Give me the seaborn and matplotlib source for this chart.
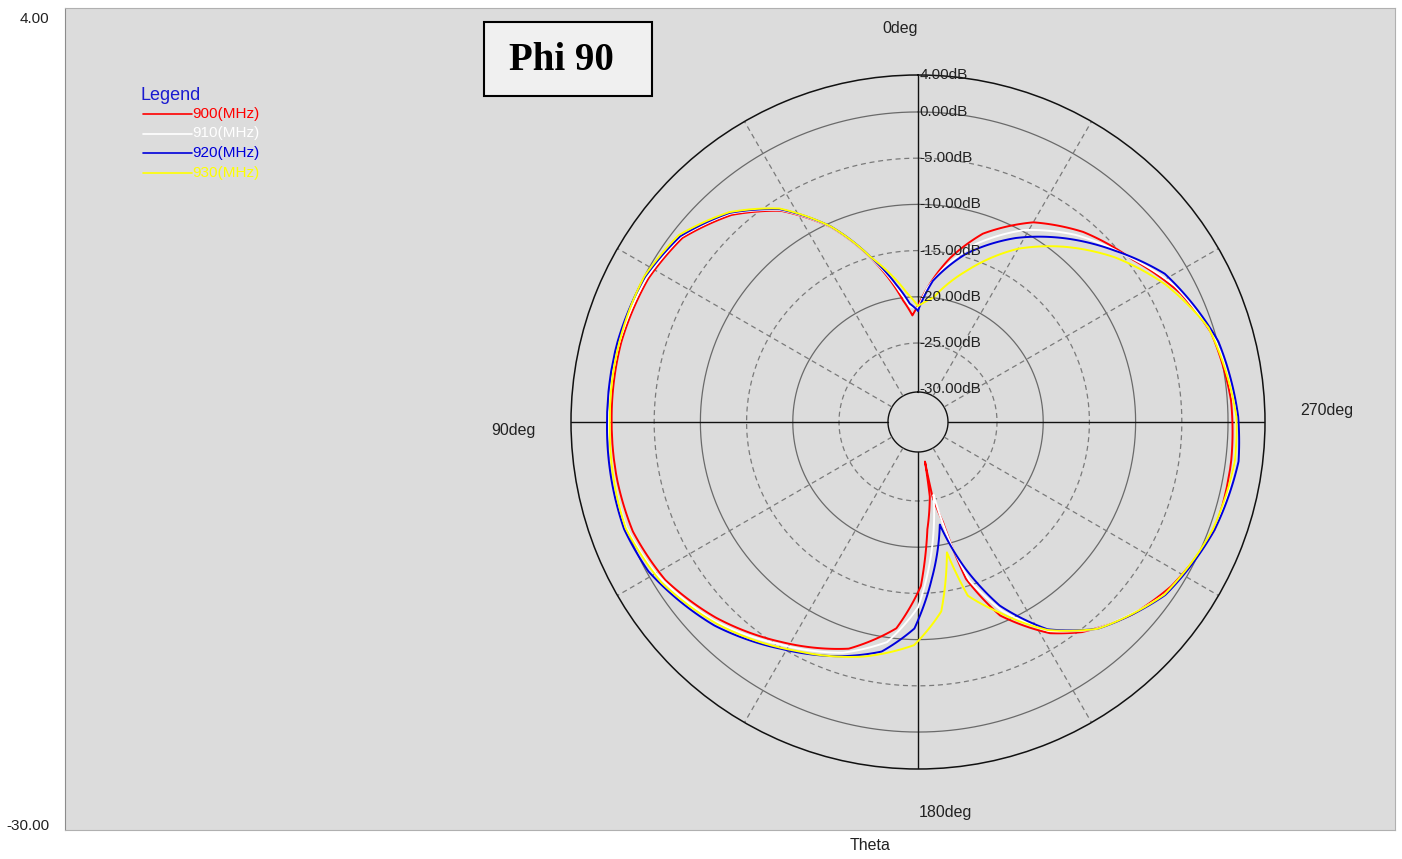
import numpy as np
import pandas as pd
import matplotlib
matplotlib.use('Agg')
import matplotlib.pyplot as plt
from matplotlib.lines import Line2D
from matplotlib.patches import Rectangle
import seaborn as sns

sns.set_style('white')
plt.rcParams['font.family'] = ['Liberation Sans', 'DejaVu Sans']

W, H = 1402, 859

### dados (theta em graus, ganho em dB)

theta_900 = [0, 3, 7, 16, 24, 33, 42, 52, 62, 75, 90, 101, 111, 122, 134, 148, 163, 174, 181, 185,
             189, 190, 191, 194, 197, 203, 212, 218, 228, 237, 250, 263, 274, 287, 296, 307, 319, 330,
             341, 349, 356, 360]
db_900 = [-21.0, -22.0, -20.3, -15.1, -10.5, -6.3, -3.4, -1.2, -0.5, -0.3, -0.4, -0.4, -0.5, -1.3,
          -3.1, -5.5, -7.9, -11.1, -15.8, -21.9, -25.4, -29.2, -25.3, -22.4, -15.8, -10.8, -6.6, -4.7,
          -2.4, -0.9, 0.6, 0.6, 0.4, -0.4, -1.9, -4.4, -6.3, -8.6, -12.0, -15.5, -19.0, -21.0]

theta_910 = [0, 4, 8, 16, 24, 33, 42, 52, 62, 75, 90, 110, 120, 134, 148, 162, 172, 180, 186, 192,
             195, 198, 204, 212, 220, 235, 250, 263, 272, 286, 298, 309, 320, 331, 342, 350, 356, 360]
db_910 = [-21.3, -21.0, -19.3, -15.1, -10.5, -6.2, -3.2, -1.0, -0.3, -0.1, -0.1, 0.0, -0.8, -2.7,
          -5.2, -7.3, -9.5, -13.5, -19.5, -25.5, -20.0, -15.5, -11.2, -6.9, -4.2, -1.0, 0.6, 1.0,
          0.8, -0.2, -2.1, -4.8, -7.1, -9.8, -13.3, -16.5, -19.0, -21.3]

theta_920 = [0, 4, 9, 16, 24, 33, 42, 52, 62, 75, 90, 110, 119, 135, 149, 162, 171, 179, 185, 192,
             198, 204, 212, 221, 235, 250, 263, 271, 285, 301, 311, 321, 332, 344, 354, 360]
db_920 = [-21.5, -20.7, -18.5, -15.0, -10.4, -6.1, -3.1, -0.9, -0.1, 0.1, 0.1, 0.3, -0.2, -2.4,
          -4.9, -6.9, -8.4, -11.2, -16.5, -22.2, -16.8, -11.8, -7.1, -3.9, -0.9, 0.6, 1.4, 1.1,
          0.1, -2.4, -5.3, -8.0, -11.0, -14.6, -18.2, -21.5]

theta_930 = [0, 5, 10, 16, 24, 33, 42, 52, 62, 75, 90, 110, 122, 135, 152, 167, 179, 187, 192.5, 196,
             203, 212, 221, 235, 250, 263, 271, 288, 299, 310, 320, 330, 342, 353, 360]
db_930 = [-21.0, -19.5, -17.5, -15.0, -10.4, -6.0, -3.0, -0.7, 0.0, -0.1, -0.2, 0.1, -0.8, -2.7,
          -5.5, -7.5, -9.4, -12.9, -19.1, -14.0, -11.2, -7.0, -3.9, -1.0, 0.4, 1.0, 0.9, -0.5,
          -2.9, -5.8, -8.8, -11.9, -16.3, -20.0, -21.0]

freqs = ['900(MHz)', '910(MHz)', '920(MHz)', '930(MHz)']
cores = {'900(MHz)': '#ff0000', '910(MHz)': '#ffffff', '920(MHz)': '#0000dc', '930(MHz)': '#ffff00'}

niveis = [4, 0, -5, -10, -15, -20, -25, -30]
rotulos_niveis = ['4.00dB', '0.00dB', '-5.00dB', '-10.00dB', '-15.00dB', '-20.00dB', '-25.00dB', '-30.00dB']

y_ticks = [-30, 4]
y_rotulos = ['-30.00', '4.00']

### montando o dataframe

frames = []
for f, th, db in zip(freqs, [theta_900, theta_910, theta_920, theta_930], [db_900, db_910, db_920, db_930]):
    frames.append(pd.DataFrame({'theta': np.deg2rad(th), 'dB': db, 'freq': f}))
df = pd.concat(frames, ignore_index=True)


def fx(px):
    return px / W


def fy(py):
    return 1 - py / H


fig = plt.figure(figsize=(W / 100, H / 100), dpi=100)
fig.patch.set_facecolor('white')

### painel cinza de fundo

ax_bg = fig.add_axes([fx(65), fy(830), (1395 - 65) / W, (830 - 8) / H])
ax_bg.set_facecolor('#dcdcdc')
ax_bg.set_xlim(0, 1)
ax_bg.set_ylim(-30.25, 4.38)
ax_bg.set_xticks([])
ax_bg.set_yticks(y_ticks)
ax_bg.set_yticklabels(y_rotulos)
ax_bg.tick_params(axis='y', length=0, pad=11, labelsize=11, labelcolor='#222222')
for s in ax_bg.spines.values():
    s.set_color('#b0b0b0')
ax_bg.spines['left'].set_color('#8c8c8c')

### eixo polar

r0 = -30 - 33 / 9.3
ax = fig.add_axes([fx(571), fy(769), 694 / W, 694 / H], projection='polar')
ax.set_theta_zero_location('N')
ax.set_theta_direction(1)
ax.patch.set_alpha(0)
ax.grid(False)
ax.spines['polar'].set_color('#111111')
ax.spines['polar'].set_linewidth(1.1)

t = np.linspace(0, 2 * np.pi, 721)
for lvl in [0, -10, -20]:
    ax.plot(t, np.full_like(t, lvl), color='#6a6a6a', lw=0.9, zorder=1)
for lvl in [-5, -15, -25]:
    ax.plot(t, np.full_like(t, lvl), color='#7a7a7a', lw=0.9, ls=(0, (4, 3)), zorder=1)
ax.plot(t, np.full_like(t, -30.3), color='#111111', lw=1.0, zorder=1)

for a in range(30, 360, 30):
    if a % 90 == 0:
        continue
    ax.plot([np.deg2rad(a)] * 2, [-30.3, 4], color='#7a7a7a', lw=0.9, ls=(0, (4, 3)), zorder=1)
for a in [0, 90, 180, 270]:
    ax.plot([np.deg2rad(a)] * 2, [-30.3, 4], color='#111111', lw=1.0, zorder=2)

n_antes = len(ax.lines)
sns.lineplot(data=df, x='theta', y='dB', hue='freq', hue_order=freqs, palette=cores,
             sort=False, estimator=None, lw=1.4, legend=False, ax=ax, zorder=3)

# curvas seguem o traçado polar (arcos) entre os pontos, e não retas
for ln in ax.lines[n_antes:]:
    ln.get_path()._interpolation_steps = 40

ax.set_xlim(0, 2 * np.pi)
ax.set_ylim(r0, 4)
ax.set_xticks([])
ax.set_yticks([])
ax.set_xlabel('')
ax.set_ylabel('')

for lvl, lab in zip(niveis, rotulos_niveis):
    ax.annotate(lab, xy=(0, lvl), xytext=(1, 0), textcoords='offset points',
                ha='left', va='center', fontsize=11, color='#222222', zorder=4)

### rótulos dos ângulos

fig.text(fx(900), fy(28), '0deg', ha='center', va='center', fontsize=11.5, color='#222222')
fig.text(fx(513), fy(430), '90deg', ha='center', va='center', fontsize=11.5, color='#222222')
fig.text(fx(945), fy(812), '180deg', ha='center', va='center', fontsize=11.5, color='#222222')
fig.text(fx(1327), fy(410), '270deg', ha='center', va='center', fontsize=11.5, color='#222222')
fig.text(fx(870), fy(846), 'Theta', ha='center', va='center', fontsize=11.5, color='#222222')

### legenda

fig.text(fx(141), fy(95), 'Legend', ha='left', va='center', fontsize=13, color='#1a1ad0')
for i, f in enumerate(freqs):
    yy = 114 + i * 19.5
    fig.add_artist(Line2D([fx(143), fx(192)], [fy(yy), fy(yy)], color=cores[f], lw=1.2))
    fig.text(fx(192), fy(yy), f, ha='left', va='center', fontsize=11, color=cores[f])

### caixa "Phi 90"

fig.add_artist(Rectangle((fx(484), fy(96)), (652 - 484) / W, (96 - 22) / H,
                         facecolor='#f0f0f0', edgecolor='black', lw=1.5))
fig.text(fx(561), fy(60), 'Phi 90', ha='center', va='center', fontsize=28, color='black',
         fontweight='bold', family=['Liberation Serif', 'DejaVu Serif'])

fig.savefig('out.png', dpi=100)
